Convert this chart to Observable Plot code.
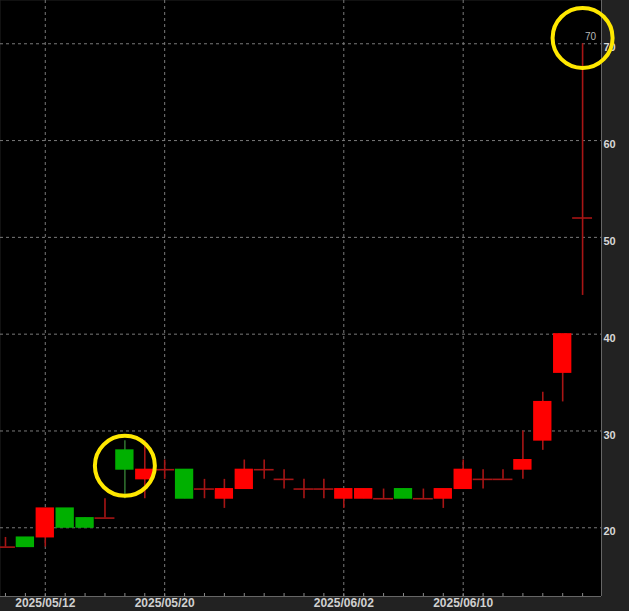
<!DOCTYPE html>
<html><head><meta charset="utf-8">
<script src="https://cdn.jsdelivr.net/npm/d3@7"></script>
<script src="https://cdn.jsdelivr.net/npm/@observablehq/plot@0.6"></script>
<style>
html,body{margin:0;padding:0;background:#222;}
#chart svg{display:block;}
</style></head><body><div id="chart"></div>
<script>
// Daily candles (index = trading day)
const dates = ["2025/05/08","2025/05/09","2025/05/12","2025/05/13","2025/05/14","2025/05/15","2025/05/16",
  "2025/05/19","2025/05/20","2025/05/21","2025/05/22","2025/05/23","2025/05/26","2025/05/27","2025/05/28",
  "2025/05/29","2025/05/30","2025/06/02","2025/06/03","2025/06/04","2025/06/05","2025/06/06","2025/06/09",
  "2025/06/10","2025/06/11","2025/06/12","2025/06/13","2025/06/16","2025/06/17","2025/06/18"];
const open  = [18,19,19,22,21,21,28,25,26,26,24,23,24,26,25,24,24,23,23,23,24,23,23,24,25,25,26,29,36,52];
const high  = [19,19,22,22,21,23,29,29,27,26,25,25,27,27,26,25,25,24,24,24,24,24,24,27,26,26,30,34,40,70];
const low   = [18,18,18,20,20,21,23,23,25,23,23,22,24,25,24,23,23,22,23,23,23,23,22,24,24,25,25,28,33,44];
const close = [18,18,22,20,20,21,26,26,26,23,24,24,26,26,25,24,24,24,24,23,23,23,24,26,25,25,27,33,40,52];
const labelDates = ["2025/05/12","2025/05/20","2025/06/02","2025/06/10"];
const yTicks = [20,30,40,50,60,70];
// Highlight circles (index, price)
const highlights = [[6,26.4],[29,70.6]];
const highLabel = [{i:29, v:70, t:"70"}];

const xDomain = [-0.25, 29.95];
const yDomain = [12.9, 74.47];

const candles = dates.map((d,i)=>({i, d, o:open[i], h:high[i], l:low[i], c:close[i]}));
const bodies = candles.filter(k=>k.o!==k.c);
const dojis = candles.filter(k=>k.o===k.c);
const labelIdx = labelDates.map(d=>dates.indexOf(d));
const allIdx = candles.map(k=>k.i);

const RED="#ff0000", GREEN="#00b000", DRED="#a81515", DGREEN="#2e6e2e";
const wickColor = k => k.c < k.o ? DGREEN : DRED;

const chart = Plot.plot({
  width: 629, height: 611,
  marginLeft: 0, marginRight: 28, marginTop: 0, marginBottom: 15,
  style: {background:"#222", color:"#d0d0d0", fontFamily:"Liberation Sans, Arial, sans-serif", fontWeight:"bold", fontSize:"12px"},
  x: {type:"linear", domain: xDomain, axis: null, label: null},
  y: {type:"linear", domain: yDomain, axis: null, label: null},
  marks: [
    Plot.frame({fill:"black", stroke:null}),
    Plot.gridY({ticks: yTicks, stroke:"#7a7a7a", strokeOpacity:1, strokeDasharray:"3,3"}),
    Plot.gridX({ticks: labelIdx, stroke:"#7a7a7a", strokeOpacity:1, strokeDasharray:"3,3"}),
    Plot.ruleX([xDomain[1]], {stroke:"#666"}),
    Plot.ruleY([yDomain[0]], {stroke:"#666"}),
    Plot.axisX({ticks: allIdx, tickSize: 3, dy: -3, tickFormat: () => "", stroke:"#888", label: null}),
    Plot.axisX({ticks: labelIdx, tickSize: 0, tickPadding: 2, tickFormat: i => dates[i], fill:"#d0d0d0", fontSize: 12, label: null}),
    Plot.axisY({anchor:"right", ticks: yTicks, tickSize: 0, tickPadding: 2, dy: 4, fill:"#d8d8d8", fontSize: 11, label: null}),
    Plot.ruleX(candles, {x:"i", y1:"l", y2:"h", stroke: wickColor, strokeWidth: 1.6}),
    Plot.ruleY(dojis, {y:"c", x1: k=>k.i-0.5, x2: k=>k.i+0.5, stroke: DRED, strokeWidth: 1.6}),
    Plot.rect(bodies, {x1: k=>k.i-0.46, x2: k=>k.i+0.46, y1:"o", y2:"c", insetBottom: -0.5, insetTop: -0.5, fill: k=> k.c>k.o ? RED : GREEN}),
    Plot.text(highLabel, {x:"i", y:"v", text:"t", dx: 8, dy: -7, fill:"#b8b8b8", fontSize: 10, fontWeight:"normal"}),
    Plot.dot(highlights, {x: d=>d[0], y: d=>d[1], r: 30, stroke:"#ffe800", strokeWidth: 4, fill:"none"})
  ]
});
document.getElementById("chart").append(chart);
</script>
</body></html>
